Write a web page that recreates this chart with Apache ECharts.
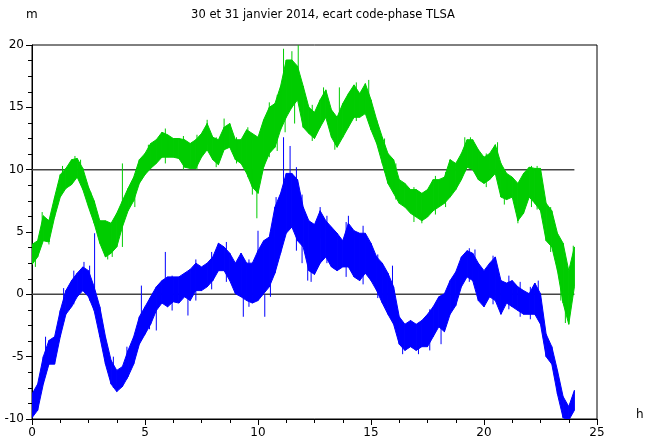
<!DOCTYPE html>
<html><head><meta charset="utf-8">
<script src="https://cdn.jsdelivr.net/npm/echarts@6/dist/echarts.min.js"></script>
<style>html,body{margin:0;padding:0;background:#fff}#c{width:646px;height:443px}</style>
</head><body><div id="c"></div>
<script>
const chartTitle = '30 et 31 janvier 2014, ecart code-phase TLSA';
const yUnit = 'm';
const xUnit = 'h';
const step = 0.25; // hours between readings

const greenHi = [4.0,4.3,6.3,5.9, 7.8,9.6,10.1,10.8, 10.9,10.1,8.6,7.5, 5.9,5.9,5.7,6.5,
  7.5,8.5,9.4,10.8, 11.3,12.1,12.4,13.0, 12.8,12.5,12.5,12.4, 12.1,12.4,12.9,13.7,
  12.6,12.4,13.4,13.7, 12.4,12.4,13.2,12.9, 12.6,14.0,15.0,15.3, 16.7,18.8,18.8,18.3,
  16.7,15.0,14.6,15.6, 16.4,14.8,14.2,15.3, 16.1,16.8,16.1,16.9, 15.6,14.0,12.6,11.3,
  10.8,9.2,8.9,8.4, 8.4,8.1,8.4,9.2, 9.2,9.4,10.8,10.5, 11.3,12.4,12.4,11.6,
  11.0,11.3,12.0,10.5, 9.7,9.4,8.9,9.7, 10.2,10.1,10.1,7.3, 6.7,4.9,4.1,1.9, 3.8];
const greenLo = [2.4,3.0,4.3,4.2, 6.2,7.8,8.5,8.8, 9.4,8.4,7.0,5.7, 4.1,3.0,3.3,3.8,
  5.4,6.7,7.5,8.9, 9.6,10.1,10.5,11.0, 11.0,11.0,10.9,10.2, 10.1,10.1,11.0,11.6,
  10.8,10.4,11.6,11.8, 10.8,10.5,9.7,8.6, 8.1,10.2,11.3,11.8, 13.2,14.2,15.0,15.6,
  13.4,12.9,12.5,13.4, 14.2,12.6,11.8,12.6, 13.4,14.2,14.2,14.5, 13.2,12.1,10.5,8.9,
  8.1,7.3,7.0,6.5, 6.2,5.9,6.2,6.7, 7.0,7.3,7.8,8.4, 9.2,10.2,10.0,9.2,
  8.9,9.2,9.7,7.8, 7.6,7.8,5.9,6.5, 7.8,7.3,6.7,4.3, 3.8,1.9,-0.7,-2.4, 0.6];
const blueHi = [-8.0,-7.2,-5.0,-3.7, -3.4,-1.3,0.3,1.1, 1.7,2.2,1.9,0.6, -1.0,-3.4,-5.3,-6.1,
  -5.8,-4.5,-3.4,-1.8, -1.0,-0.2,0.6,1.1, 1.4,1.4,1.4,1.7, 2.0,2.5,2.2,2.5,
  3.0,4.1,3.8,3.3, 2.5,3.3,2.5,2.5, 3.5,4.3,4.6,7.0, 8.1,9.7,9.7,9.2,
  7.0,5.9,5.6,6.7, 5.9,5.4,4.9,4.3, 5.7,5.1,4.9,4.9, 4.1,3.0,2.5,1.7,
  0.6,-1.8,-2.4,-2.1, -2.4,-2.1,-1.6,-1.0, -0.2,0.05,1.1,1.8, 3.0,3.5,3.3,2.5,
  1.9,2.5,3.0,1.1, 0.9,1.1,0.6,0.3, 0.05,0.9,0.05,-3.2, -4.2,-6.1,-8.2,-9.0, -7.7];
const blueLo = [-9.9,-9.3,-7.2,-5.6, -5.6,-3.4,-1.6,-1.0, -0.2,0.3,-0.2,-1.3, -3.4,-5.6,-7.2,-7.8,
  -7.4,-6.6,-5.6,-4.0, -3.2,-2.4,-1.3,-0.7, -1.0,-0.6,-0.7,-0.2, -0.5,0.3,0.3,0.6,
  1.1,1.9,1.9,1.1, 0.05,-0.2,-0.5,-0.7, -0.5,0.05,0.6,1.7, 3.3,4.9,5.4,4.3,
  3.8,1.9,1.6,2.5, 3.0,2.2,1.9,2.2, 2.2,1.4,1.1,1.7, 1.1,0.3,-0.7,-1.6,
  -2.4,-4.0,-4.5,-4.2, -4.5,-4.2,-4.2,-3.4, -2.6,-3.0,-1.6,-0.9, 0.6,1.4,1.1,-0.5,
  -1.0,-0.2,-0.5,-1.6, -0.7,-1.0,-1.3,-1.6, -1.6,-1.6,-2.4,-5.0, -5.6,-8.0,-9.9,-10.1, -9.3];

// isolated spikes: hour, bottom, top
const greenSpikeX  = [0.15,0.45,0.75,1.35,1.9,2.15,2.6,3.35,3.55,4.0,4.55,5.15,5.9,6.7,7.3,7.75,8.15,8.5,9.05,9.55,9.75,9.95,
  10.5,10.85,11.13,11.2,11.5,11.62,11.78,12.4,12.9,13.4,13.6,14.35,14.9,15.6,16.1,16.9,17.25,17.85,18.3,18.5,
  19.15,19.4,20.1,20.6,20.9,21.5,22.1,22.35,22.95,23.4,23.6,23.95];
const greenSpikeLo = [2.2,5.0,4.0,9.0,9.8,9.5,6.5,2.8,3.0,3.8,7.0,10.0,10.5,10.0,10.0,12.0,10.2,12.0,10.5,9.4,8.0,6.1,
  11.0,11.5,14.0,13.0,15.5,13.7,16.0,12.3,14.0,11.6,14.0,13.9,15.0,9.8,7.6,5.8,5.7,6.4,7.0,8.5,
  9.8,11.0,8.6,10.5,7.2,5.7,7.0,6.8,3.4,-0.5,-2.3,2.0];
const greenSpikeHi = [3.6,6.6,6.0,10.3,11.1,10.8,8.2,4.5,5.5,10.5,9.5,12.0,13.3,12.7,12.8,14.0,12.6,14.1,12.6,13.4,10.0,9.0,
  15.4,16.0,19.7,15.0,19.5,15.5,20.0,15.2,16.6,13.0,16.6,17.0,17.2,12.5,10.5,8.6,6.5,9.5,9.8,10.8,
  12.6,12.6,11.3,12.2,10.0,7.0,10.3,10.3,7.0,4.3,0.0,3.9];
const blueSpikeX  = [0.6,1.4,1.85,2.3,2.55,2.77,3.6,4.2,4.84,5.2,5.5,5.9,6.2,6.9,7.25,7.95,8.6,9.35,9.6,10.0,10.3,10.55,
  10.8,11.13,11.42,11.7,11.95,12.2,12.35,12.75,13.05,13.9,14.0,14.65,15.3,15.95,16.4,17.1,17.6,18.1,
  19.35,19.6,20.4,21.1,21.6,22.05,22.4];
const blueSpikeLo = [-6.0,-2.2,-0.8,1.0,-0.5,0.5,-7.5,-6.8,-2.0,-2.8,-2.9,0.5,-1.3,-1.7,-0.5,0.4,1.0,-1.8,-1.0,2.0,-1.8,-0.2,
  5.0,6.0,6.0,3.5,2.5,1.1,1.0,4.5,2.5,1.4,4.5,0.8,-0.3,0.0,-4.8,-4.8,-4.5,-4.0,
  1.0,2.0,-0.8,-1.2,-1.8,-2.0,-0.5];
const blueSpikeHi = [-3.4,0.5,1.9,2.6,2.3,4.9,-5.0,-4.2,0.7,-0.3,-1.0,3.4,1.5,0.0,2.8,3.4,4.2,0.0,2.8,5.1,0.0,5.0,
  7.8,12.6,11.9,10.2,8.0,3.0,4.5,7.0,6.3,5.8,6.3,5.5,3.2,2.3,-3.0,-2.5,-1.2,-2.0,
  3.7,3.6,3.1,1.5,1.0,0.6,1.1];

const refLevels = [0, 10];
const refStart = 0, refEnd = 24;

const GREEN = '#00cc00', BLUE = '#0000ff';
const FONT = 'DejaVu Sans';

function band(lo, hi, color) {
  const data = lo.map((v, i) => [i * step, v, hi[i]]);
  return {
    type: 'custom', data, silent: true, clip: true, z: 3, animation: false,
    encode: {x: 0, y: [1, 2]},
    renderItem: function (params, api) {
      const i = params.dataIndex;
      if (i >= data.length - 1) return null;
      const a = data[i], b = data[i + 1];
      const pts = [api.coord([a[0], a[2]]), api.coord([b[0], b[2]]),
                   api.coord([b[0], b[1]]), api.coord([a[0], a[1]])];
      return {type: 'polygon', shape: {points: pts},
              style: {fill: color, stroke: color, lineWidth: 1}};
    }
  };
}
function spikes(xs, los, his, color) {
  const d = [];
  xs.forEach((x, i) => { d.push([x, los[i]], [x, his[i]], [x, '-']); });
  return {type: 'line', data: d, symbol: 'none', silent: true, connectNulls: false,
    lineStyle: {width: 1, color}, z: 4, animation: false};
}
const refData = [];
refLevels.forEach(l => { refData.push([refStart, l], [refEnd, l], [refEnd, '-']); });

const chart = echarts.init(document.getElementById('c'), null, {renderer: 'canvas'});
const axisCommon = {
  axisLine: {show: true, onZero: false, lineStyle: {color: '#000', width: 1}},
  axisTick: {show: true, inside: false, length: 6, lineStyle: {color: '#000', width: 1}},
  minorTick: {show: true, splitNumber: 4, length: 4, lineStyle: {color: '#000', width: 1}},
  splitLine: {show: false},
  axisLabel: {color: '#000', fontFamily: FONT, fontSize: 12, margin: 8}
};
chart.setOption({
  animation: false,
  backgroundColor: '#fff',
  grid: {left: 32, right: 49, top: 45, bottom: 24, show: true, borderColor: '#000', borderWidth: 1},
  xAxis: Object.assign({type: 'value', min: 0, max: 25, interval: 5}, axisCommon),
  yAxis: Object.assign({type: 'value', min: -10, max: 20, interval: 5}, axisCommon),
  graphic: [
    {type: 'text', left: 'center', top: 9, style: {text: chartTitle, fill: '#000', font: '11.5px "DejaVu Sans"'}},
    {type: 'text', left: 26, top: 9, style: {text: yUnit, fill: '#000', font: '12px "DejaVu Sans"'}},
    {type: 'text', left: 636, top: 409, style: {text: xUnit, fill: '#000', font: '12px "DejaVu Sans"'}}
  ],
  series: [
    {type: 'line', data: refData, symbol: 'none', silent: true, connectNulls: false,
     lineStyle: {width: 1.5, color: '#444'}, z: 1, animation: false},
    band(greenLo, greenHi, GREEN),
    band(blueLo, blueHi, BLUE),
    spikes(greenSpikeX, greenSpikeLo, greenSpikeHi, GREEN),
    spikes(blueSpikeX, blueSpikeLo, blueSpikeHi, BLUE)
  ]
});
</script></body></html>
